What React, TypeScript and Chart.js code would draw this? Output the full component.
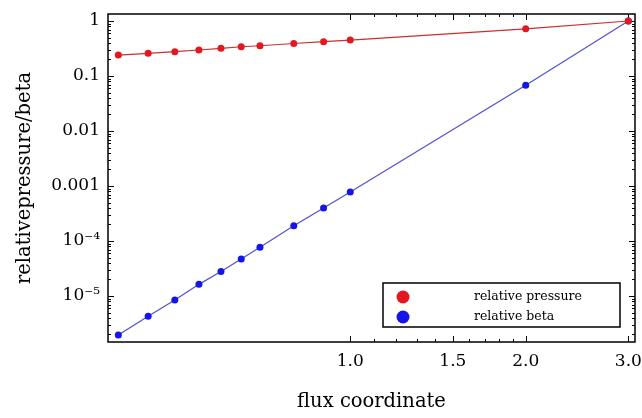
import React, { useEffect, useRef } from "react";
import { Chart, registerables } from "chart.js";

Chart.register(...registerables);

// ---- data ----
const fluxCoordinate = [0.4, 0.45, 0.5, 0.55, 0.6, 0.65, 0.7, 0.8, 0.9, 1.0, 2.0, 3.0];
const relativePressure = [0.24, 0.258, 0.277, 0.297, 0.318, 0.34, 0.355, 0.39, 0.42, 0.45, 0.72, 1.0];
const relativeBeta = [1.95e-6, 4.3e-6, 8.5e-6, 1.63e-5, 2.8e-5, 4.7e-5, 7.7e-5, 1.9e-4, 4.0e-4, 7.8e-4, 0.068, 1.0];
const seriesLabels = ["relative pressure", "relative beta"];

const xMajorTicks = [1.0, 1.5, 2.0, 3.0];
const xTickLabels = ["1.0", "1.5", "2.0", "3.0"];
const xMinorTicks = [1.1, 1.2, 1.3, 1.4, 1.6, 1.7, 1.8, 1.9];
const yMajorTicks = [1, 0.1, 0.01, 0.001, 1e-4, 1e-5];
const yTickLabels = ["1", "0.1", "0.01", "0.001", "10\u207B\u2074", "10\u207B\u2075"];
const xRange = [0.384, 3.08];
const yRange = [1.46e-6, 1.34];

const xTitle = "flux coordinate";
const yTitle = "relativepressure/beta";

const SERIF = "'DejaVu Serif', 'Liberation Serif', serif";

const near = (a: number, b: number) => Math.abs(a - b) <= Math.abs(b) * 1e-6;

function yMinorTicks(): number[] {
  const out: number[] = [];
  for (let e = -7; e <= 0; e++) {
    const d = Math.pow(10, e);
    for (let m = 2; m <= 9; m++) {
      const v = m * d;
      if (v >= yRange[0] && v <= yRange[1]) out.push(v);
    }
  }
  return out;
}

const framePlugin = {
  id: "frameTicks",
  beforeDatasetsDraw(chart: any) {
    const { ctx, chartArea } = chart;
    const { left, right, top, bottom } = chartArea;
    const xs = chart.scales.x;
    const ys = chart.scales.y;
    ctx.save();
    ctx.strokeStyle = "#000";
    ctx.lineWidth = 1;
    ctx.beginPath();
    for (const t of xs.ticks) {
      const major = xMajorTicks.some((m) => near(t.value, m));
      const len = major ? 6 : 3;
      const px = Math.round(xs.getPixelForValue(t.value)) + 0.5;
      ctx.moveTo(px, bottom);
      ctx.lineTo(px, bottom - len);
      ctx.moveTo(px, top);
      ctx.lineTo(px, top + len);
    }
    for (const t of ys.ticks) {
      const major = yMajorTicks.some((m) => near(t.value, m));
      const len = major ? 6 : 3;
      const py = Math.round(ys.getPixelForValue(t.value)) + 0.5;
      ctx.moveTo(left, py);
      ctx.lineTo(left + len, py);
      ctx.moveTo(right, py);
      ctx.lineTo(right - len, py);
    }
    ctx.stroke();
    ctx.lineWidth = 1.5;
    ctx.strokeRect(left, top, right - left, bottom - top);
    ctx.restore();
  },
  afterDraw(chart: any) {
    const { ctx, chartArea } = chart;
    const boxRight = chartArea.right - 15;
    const boxBottom = chartArea.bottom - 15;
    const boxW = 237;
    const boxH = 44;
    const boxLeft = boxRight - boxW;
    const boxTop = boxBottom - boxH;
    ctx.save();
    ctx.fillStyle = "#fff";
    ctx.fillRect(boxLeft, boxTop, boxW, boxH);
    ctx.strokeStyle = "#000";
    ctx.lineWidth = 1.5;
    ctx.strokeRect(boxLeft, boxTop, boxW, boxH);
    chart.data.datasets.forEach((ds: any, i: number) => {
      const cy = boxTop + 14 + i * 20;
      ctx.beginPath();
      ctx.fillStyle = ds.pointBackgroundColor;
      ctx.arc(boxLeft + 20, cy, 6.5, 0, Math.PI * 2);
      ctx.fill();
      ctx.fillStyle = "#000";
      ctx.font = `12.5px ${SERIF}`;
      ctx.textBaseline = "middle";
      ctx.textAlign = "left";
      ctx.fillText(ds.label, boxLeft + 91, cy);
    });
    ctx.restore();
  },
};

export default function App() {
  const ref = useRef<HTMLCanvasElement | null>(null);

  useEffect(() => {
    document.body.style.margin = "0";
    const canvas = ref.current;
    if (!canvas) return;
    const chart = new Chart(canvas, {
      type: "scatter",
      data: {
        datasets: [
          {
            label: seriesLabels[0],
            data: fluxCoordinate.map((x, i) => ({ x, y: relativePressure[i] })),
            showLine: true,
            borderColor: "rgb(205,45,45)",
            borderWidth: 1.2,
            pointBackgroundColor: "rgb(228,22,30)",
            pointBorderWidth: 0,
            pointRadius: 3.5,
          },
          {
            label: seriesLabels[1],
            data: fluxCoordinate.map((x, i) => ({ x, y: relativeBeta[i] })),
            showLine: true,
            borderColor: "rgb(80,80,215)",
            borderWidth: 1.2,
            pointBackgroundColor: "rgb(20,20,235)",
            pointBorderWidth: 0,
            pointRadius: 3.5,
          },
        ],
      },
      options: {
        responsive: false,
        animation: false,
        devicePixelRatio: 1,
        layout: { padding: { left: 0, right: 7, top: 14, bottom: 0 } },
        plugins: { legend: { display: false }, tooltip: { enabled: false } },
        scales: {
          x: {
            type: "logarithmic",
            min: xRange[0],
            max: xRange[1],
            grid: { display: false, drawTicks: false },
            border: { display: false },
            afterBuildTicks: (s: any) => {
              s.ticks = [...xMajorTicks, ...xMinorTicks]
                .sort((a, b) => a - b)
                .map((v) => ({ value: v }));
            },
            afterFit: (s: any) => {
              s.height = 76;
              s.paddingLeft = 0;
              s.paddingRight = 0;
            },
            ticks: {
              autoSkip: false,
              maxRotation: 0,
              minRotation: 0,
              padding: 9,
              color: "#000",
              font: { family: SERIF, size: 17 },
              callback: (v: any) => {
                const i = xMajorTicks.findIndex((m) => near(Number(v), m));
                return i >= 0 ? xTickLabels[i] : "";
              },
            },
            title: {
              display: true,
              text: xTitle,
              color: "#000",
              font: { family: SERIF, size: 19.5 },
              padding: { top: 0, bottom: 4 },
            },
          },
          y: {
            type: "logarithmic",
            min: yRange[0],
            max: yRange[1],
            grid: { display: false, drawTicks: false },
            border: { display: false },
            afterBuildTicks: (s: any) => {
              s.ticks = [...yMajorTicks, ...yMinorTicks()]
                .sort((a, b) => a - b)
                .map((v) => ({ value: v }));
            },
            afterFit: (s: any) => {
              s.width = 108;
              s.paddingTop = 0;
              s.paddingBottom = 0;
            },
            ticks: {
              autoSkip: false,
              padding: 8,
              color: "#000",
              font: { family: SERIF, size: 17 },
              callback: (v: any) => {
                const i = yMajorTicks.findIndex((m) => near(Number(v), m));
                return i >= 0 ? yTickLabels[i] : "";
              },
            },
            title: {
              display: true,
              text: yTitle,
              color: "#000",
              font: { family: SERIF, size: 19.5 },
              padding: { top: 13, bottom: 0 },
            },
          },
        },
      },
      plugins: [framePlugin],
    });
    return () => chart.destroy();
  }, []);

  return (
    <div style={{ position: "absolute", left: 0, top: 0, width: 642, height: 418 }}>
      <canvas ref={ref} width={642} height={418} style={{ display: "block", width: 642, height: 418 }} />
    </div>
  );
}
